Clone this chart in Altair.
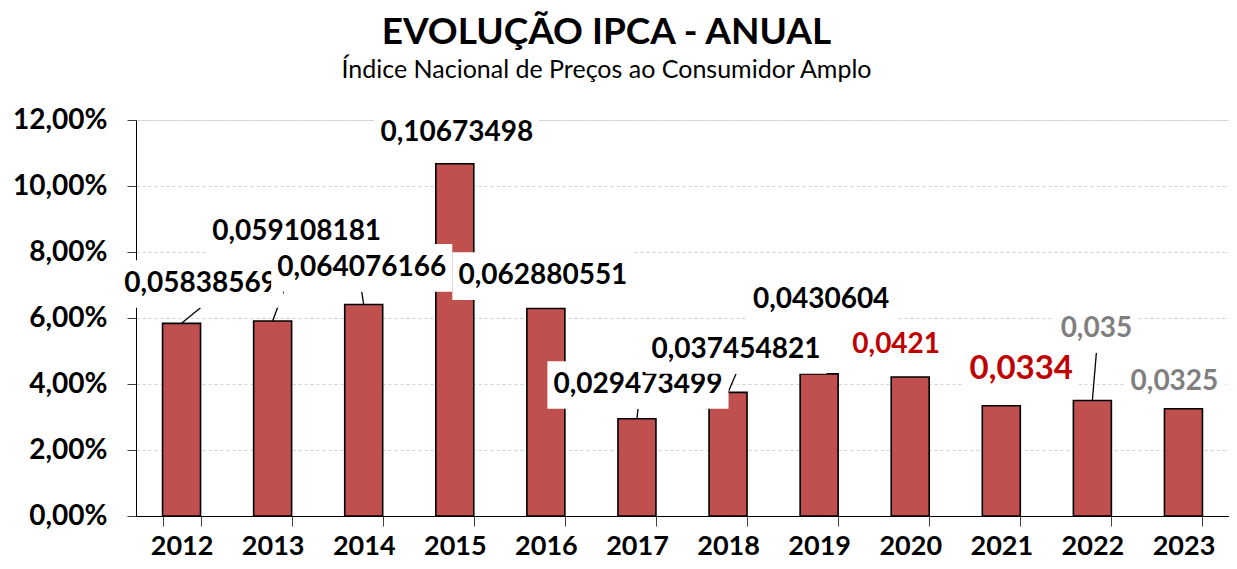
import altair as alt
import pandas as pd

years = ["2012", "2013", "2014", "2015", "2016", "2017", "2018", "2019", "2020", "2021", "2022", "2023"]
ipca = [0.05838569, 0.059108181, 0.064076166, 0.10673498, 0.062880551, 0.029473499,
        0.037454821, 0.0430604, 0.0421, 0.0334, 0.035, 0.0325]
labels = ["0,05838569", "0,059108181", "0,064076166", "0,10673498", "0,062880551", "0,029473499",
          "0,037454821", "0,0430604", "0,0421", "0,0334", "0,035", "0,0325"]

# label layout (value units for height, pixels for horizontal shift)
label_y = [0.0703, 0.0861, 0.0752, 0.1161, 0.0727, 0.0397, 0.0503, 0.0655, 0.0518, 0.0445, 0.0567, 0.0406]
label_dx = [19, 24, -2, 2, -3, 1, 8, 2, -14, 20, 4, -9]
label_color = ["#000000"] * 8 + ["#C00000", "#C00000", "#7F7F7F", "#7F7F7F"]
label_size = [28] * 9 + [33, 28, 28]
leader = [1, 1, 1, 0, 0, 1, 1, 0, 0, 0, 1, 0]

W, H = 1093, 396
YMAX = 0.12
step = W / len(years)
px_per_unit = H / YMAX

rows = []
for i, y in enumerate(years):
    fs = label_size[i]
    txt = labels[i]
    tw = (len(txt) - 1) * 0.58 * fs + 0.24 * fs
    hw = (tw / 2 + 6) / step
    hh = (fs * 0.85) / px_per_unit
    lx = i + label_dx[i] / step
    rows.append(dict(
        idx=i, year=y, value=ipca[i], label=txt, pos=i, lx=lx, ly=label_y[i],
        bx1=lx - hw, bx2=lx + hw, by1=label_y[i] - hh, by2=label_y[i] + hh,
        lcolor=label_color[i], lsize=fs, leader=leader[i],
    ))
df = pd.DataFrame(rows)

base = alt.Chart(df)
yscale = alt.Scale(domain=[0, YMAX], nice=False, zero=True)
xq_scale = alt.Scale(domain=[-0.5, len(years) - 0.5], nice=False, zero=False)

bars = base.mark_bar(color="#C0504D", stroke="black", strokeWidth=1.6).encode(
    x=alt.X("year:N", sort=years, title=None,
            scale=alt.Scale(paddingInner=0.583, paddingOuter=0.2915),
            axis=alt.Axis(labelAngle=0, tickBand="extent", tickSize=10, tickColor="#404040",
                          domainColor="black", labelFont="Lato", labelFontSize=27,
                          labelFontWeight="bold", labelColor="black", labelPadding=7,
                          grid=False)),
    y=alt.Y("value:Q", scale=yscale, title=None,
            axis=alt.Axis(values=[0, 0.02, 0.04, 0.06, 0.08, 0.1, 0.12],
                          labelExpr="replace(format(datum.value, '.2%'), '.', ',')",
                          labelFont="Lato", labelFontSize=28, labelFontWeight="bold",
                          labelColor="black", labelPadding=20, tickSize=9, tickColor="#404040",
                          domainColor="black", grid=True, gridColor="#D0D0D0",
                          gridDash=[3, 3], gridWidth=1)),
)

lines = base.transform_filter(alt.datum.leader == 1).transform_calculate(
    ly2="datum.by1"
).mark_rule(color="black", strokeWidth=1.3).encode(
    x=alt.X("pos:Q", scale=xq_scale, axis=None),
    x2="lx:Q",
    y=alt.Y("value:Q", scale=yscale, title=None),
    y2="ly2:Q",
)

layers = [bars, lines]
for i in range(len(years)):
    sub = base.transform_filter(alt.datum.idx == i)
    box = sub.mark_rect(color="white").encode(
        x=alt.X("bx1:Q", scale=xq_scale, axis=None),
        x2="bx2:Q",
        y=alt.Y("by1:Q", scale=yscale, title=None),
        y2="by2:Q",
    )
    txt = sub.mark_text(font="Lato", fontWeight="bold", align="center", baseline="middle").encode(
        x=alt.X("lx:Q", scale=xq_scale, axis=None),
        y=alt.Y("ly:Q", scale=yscale, title=None),
        text="label:N",
        color=alt.Color("lcolor:N", scale=None),
        size=alt.Size("lsize:Q", scale=None),
    )
    layers += [box, txt]

chart = alt.layer(*layers).resolve_scale(x="independent").properties(
    width=W, height=H,
    autosize="none",
    padding={"left": 128, "top": 112, "right": 0, "bottom": 45},
    title=alt.TitleParams(
        text="EVOLUÇÃO IPCA - ANUAL",
        subtitle="Índice Nacional de Preços ao Consumidor Amplo",
        font="Lato", fontSize=37, fontWeight="bold", color="black",
        subtitleFont="Lato", subtitleFontSize=25, subtitleColor="black",
        subtitlePadding=6, anchor="middle", dx=-76, offset=22,
    ),
).configure_view(stroke=None).configure(background="white")

chart.save("out.html", embed_options={"renderer": "svg", "actions": False})
